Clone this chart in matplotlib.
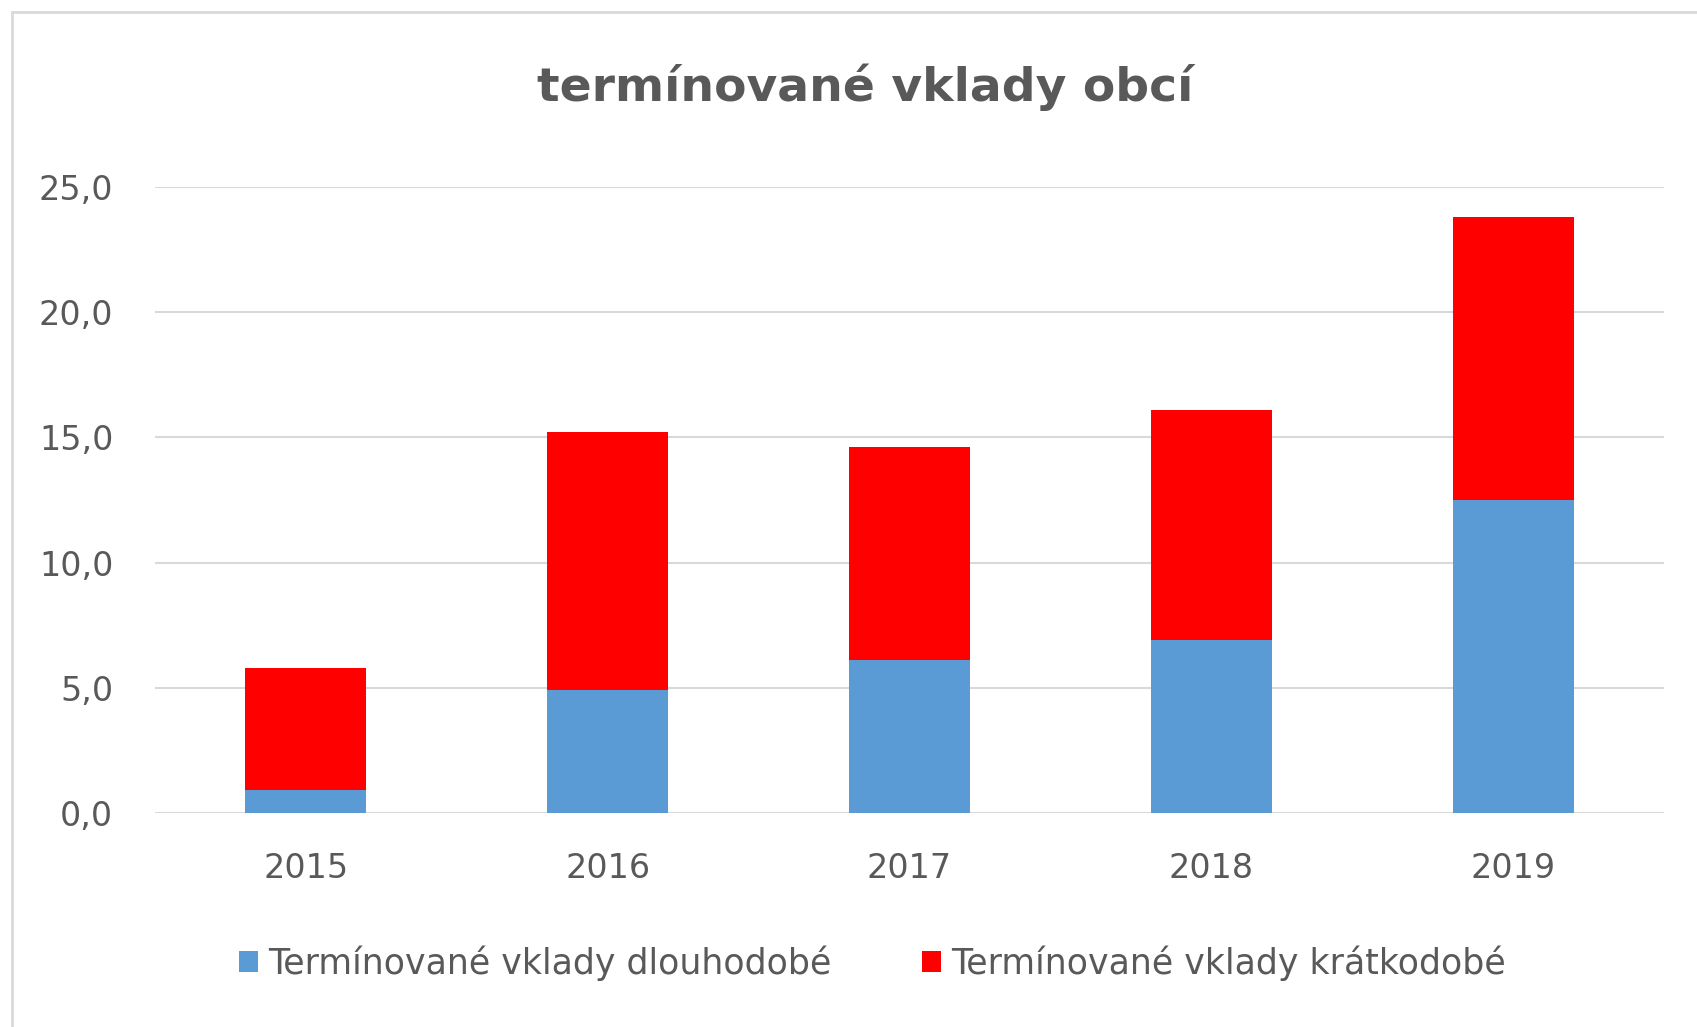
import matplotlib
matplotlib.use("Agg")
import matplotlib.pyplot as plt
from matplotlib.patches import Rectangle
from matplotlib.ticker import FuncFormatter

years = ["2015", "2016", "2017", "2018", "2019"]
long_term = [0.9, 4.9, 6.1, 6.9, 12.5]     # dlouhodobé
short_term = [4.9, 10.3, 8.5, 9.2, 11.3]   # krátkodobé
labels = ["Termínované vklady dlouhodobé", "Termínované vklady krátkodobé"]

text_col = "#595959"
grid_col = "#d9d9d9"

fig = plt.figure(figsize=(16.97, 10.27), dpi=100)
ax = fig.add_axes([0.0913, 0.2084, 0.8893, 0.6095])

x = range(len(years))
ax.bar(x, long_term, width=0.4, color="#5B9BD5", label=labels[0], zorder=3)
ax.bar(x, short_term, width=0.4, bottom=long_term, color="#FF0000",
       label=labels[1], zorder=3)

ax.set_xlim(-0.5, 4.5)
ax.set_ylim(0, 25)
ax.set_yticks([0, 5, 10, 15, 20, 25])
ax.yaxis.set_major_formatter(FuncFormatter(lambda v, p: f"{v:.1f}".replace(".", ",")))
ax.set_xticks(list(x))
ax.set_xticklabels(years)
ax.tick_params(axis="both", length=0, labelsize=24, labelcolor=text_col)
ax.tick_params(axis="x", pad=28)
ax.tick_params(axis="y", pad=30)
ax.grid(axis="y", color=grid_col, linewidth=1.5, zorder=0)
for s in ax.spines.values():
    s.set_visible(False)

fig.text(0.51, 0.915, "termínované vklady obcí", ha="center", va="center",
         fontsize=34, fontweight="bold", color=text_col)

fig.legend(loc="center", bbox_to_anchor=(0.514, 0.062), ncol=2, frameon=False,
           fontsize=25, labelcolor=text_col, handlelength=0.55, handleheight=0.55,
           handletextpad=0.3, columnspacing=2.6)

# outer chart border
fig.patches.append(Rectangle((0.007, -0.1), 1.2, 1.088, transform=fig.transFigure,
                             fill=False, edgecolor=grid_col, linewidth=2))

fig.savefig("out.png", dpi=100)
